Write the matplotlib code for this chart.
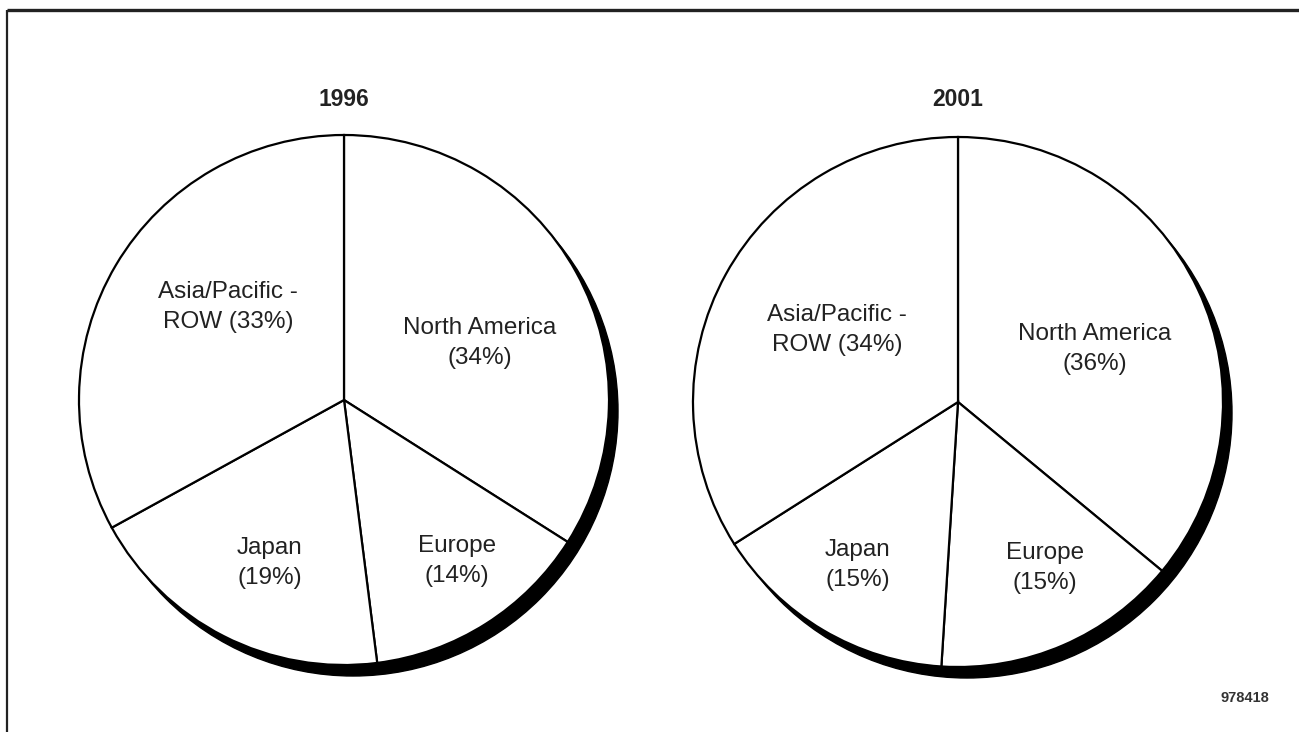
import matplotlib
matplotlib.use("Agg")
import matplotlib.pyplot as plt
from matplotlib.patches import Circle

plt.rcParams['font.family'] = ['Liberation Sans', 'DejaVu Sans']

# Regional shares, clockwise from 12 o'clock
regions = ["North America", "Europe", "Japan", "Asia/Pacific - ROW"]
years = ["1996", "2001"]
shares_1996 = [34, 14, 19, 33]
shares_2001 = [36, 15, 15, 34]
label_text_1996 = ["North America\n(34%)", "Europe\n(14%)", "Japan\n(19%)", "Asia/Pacific -\nROW (33%)"]
label_text_2001 = ["North America\n(36%)", "Europe\n(15%)", "Japan\n(15%)", "Asia/Pacific -\nROW (34%)"]
figure_id = "978418"

W, H = 1299, 732
fig = plt.figure(figsize=(W / 100, H / 100), dpi=100)
ax = fig.add_axes([0, 0, 1, 1])

def py(y):
    return H - y

pies = [
    dict(year=years[0], shares=shares_1996, texts=label_text_1996, cx=344, cy=400,
         label_pos=[(480, 343), (457, 561), (270, 563), (228, 307)]),
    dict(year=years[1], shares=shares_2001, texts=label_text_2001, cx=958, cy=402,
         label_pos=[(1095, 349), (1045, 568), (858, 565), (837, 330)]),
]
R = 265
shadow_dx, shadow_dy = 9, 11

for p in pies:
    cx, cy = p['cx'], py(p['cy'])
    ax.add_patch(Circle((cx + shadow_dx, cy - shadow_dy), R, facecolor='black',
                        edgecolor='black', zorder=1))
    ax.pie(p['shares'], center=(cx, cy), radius=R, startangle=90, counterclock=False,
           wedgeprops=dict(facecolor='white', edgecolor='black', linewidth=1.6, zorder=2),
           frame=True)
    for txt, (lx, ly) in zip(p['texts'], p['label_pos']):
        ax.text(lx, py(ly), txt, ha='center', va='center', fontsize=17.5,
                linespacing=1.45, color='#222222', zorder=3)
    ax.text(p['cx'], py(100), p['year'], ha='center', va='center', fontsize=16.5,
            fontweight='bold', color='#222222', zorder=3)

ax.set_xlim(0, W)
ax.set_ylim(0, H)
ax.set_aspect('auto')
ax.axis('off')

# Frame lines
ax.plot([7, W], [py(10), py(10)], color='#222222', linewidth=2.4, solid_capstyle='butt')
ax.plot([7, 7], [py(10), py(732)], color='#222222', linewidth=1.6, solid_capstyle='butt')

ax.text(1245, py(698), figure_id, ha='center', va='center', fontsize=10.5,
        fontweight='bold', color='#333333')

fig.savefig("out.png", dpi=100, facecolor='white')
